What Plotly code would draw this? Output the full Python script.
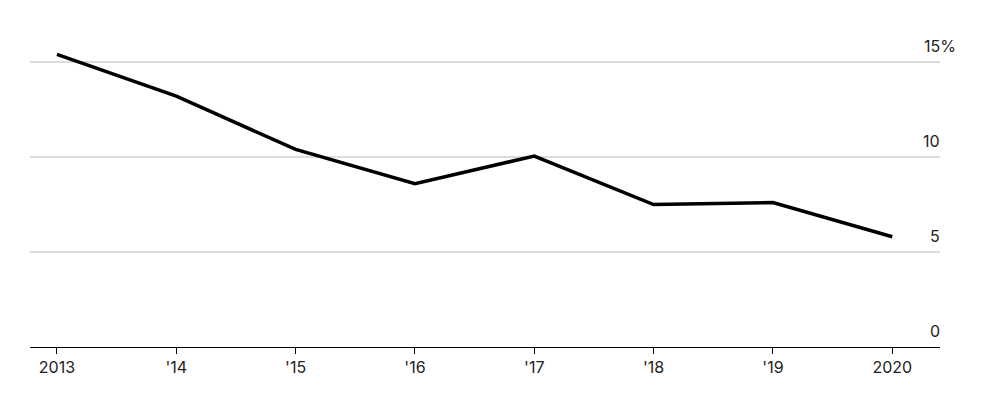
import plotly.graph_objects as go

years = [2013, 2014, 2015, 2016, 2017, 2018, 2019, 2020]
values = [15.4, 13.2, 10.4, 8.6, 10.05, 7.5, 7.6, 5.8]
tick_labels = ['2013', "'14", "'15", "'16", "'17", "'18", "'19", '2020']
y_ticks = [0, 5, 10, 15]
y_labels = ['0', '5', '10', '15%']

fig = go.Figure()
fig.add_trace(go.Scatter(x=years, y=values, mode='lines',
                         line=dict(color='black', width=3.5), hoverinfo='x+y'))

fig.update_xaxes(range=[2012.774, 2020.4], tickvals=years, ticktext=tick_labels,
                 showgrid=False, showline=True, linecolor='black', linewidth=1,
                 ticks='outside', ticklen=6, tickcolor='black', zeroline=False,
                 tickfont=dict(size=16, color='#222'))
fig.update_yaxes(range=[0, 17], tickvals=y_ticks, showticklabels=False,
                 gridcolor='#dcdcdc', gridwidth=1.5, zeroline=False)

for v, lab in zip(y_ticks, y_labels):
    fig.add_annotation(x=1, xref='paper', y=v, yref='y', text=lab, showarrow=False,
                       xanchor='right', yanchor='bottom', xshift=18 if lab.endswith('%') else 2,
                       yshift=4, font=dict(size=16, color='#222'))

fig.update_layout(width=983, height=408, margin=dict(l=22, r=51, t=16, b=69),
                  plot_bgcolor='white', paper_bgcolor='white', showlegend=False,
                  font=dict(family='Inter, Liberation Sans, sans-serif'))
fig.write_html('out.html')
